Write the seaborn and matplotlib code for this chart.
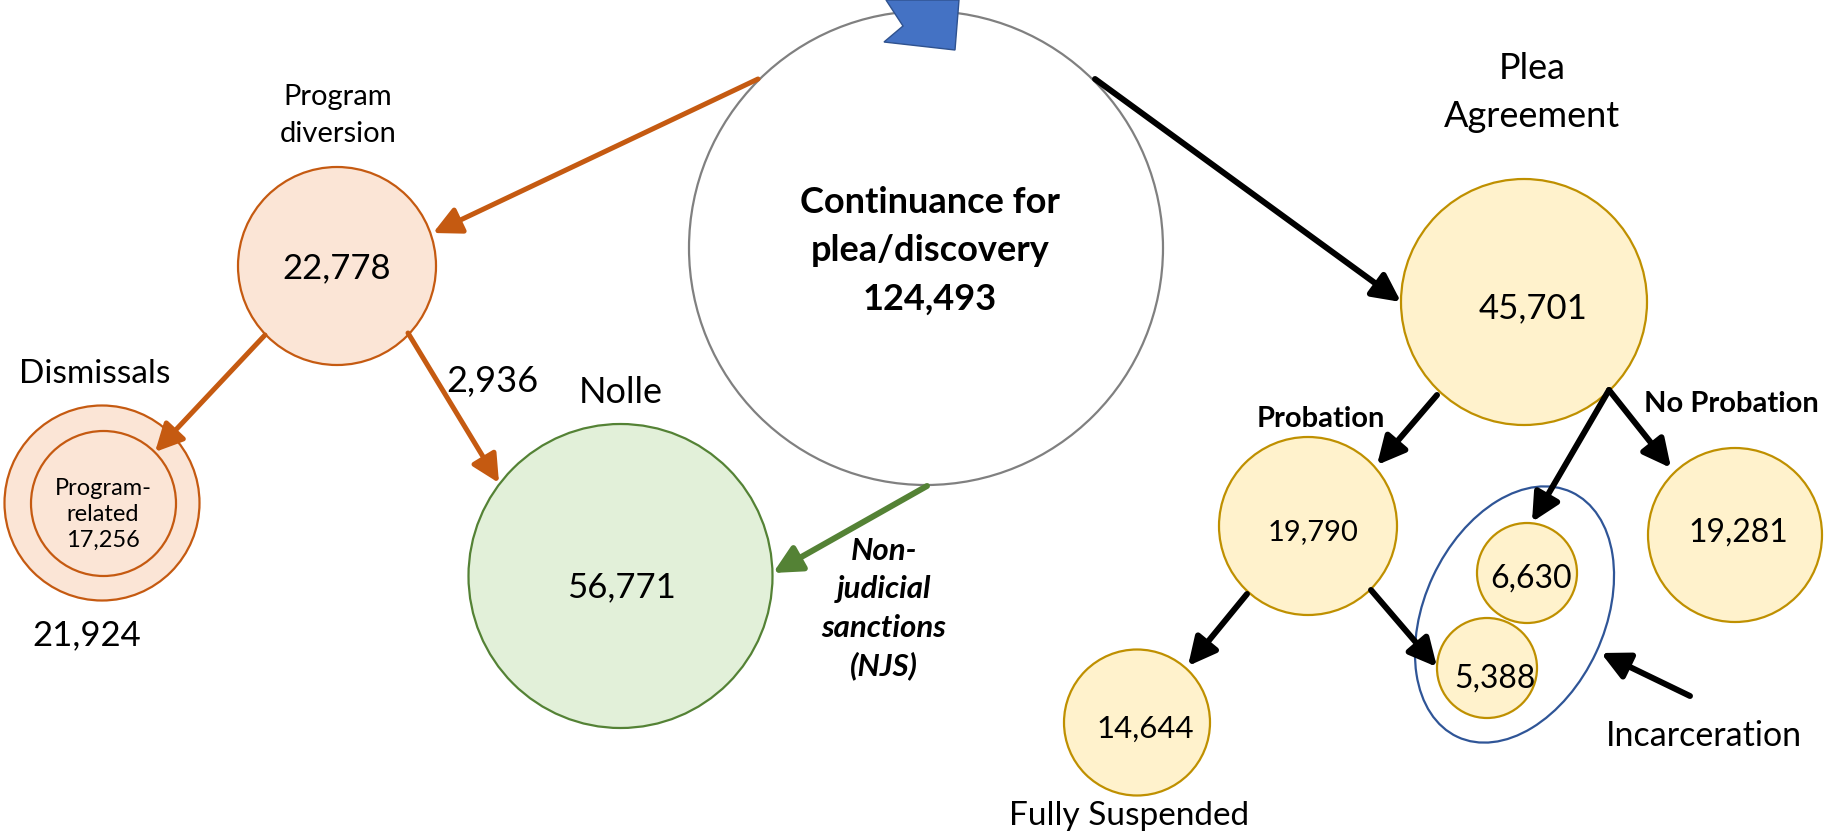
import numpy as np
import pandas as pd
import seaborn as sns
import matplotlib.pyplot as plt
from matplotlib.patches import Ellipse, Polygon

# node values (case counts)
node_names = ["Continuance", "Program diversion", "Dismissals", "Program-related",
              "Nolle", "Plea Agreement", "Probation", "No Probation",
              "Fully Suspended", "Incarceration (no probation)", "Incarceration (probation)"]
node_counts = [124493, 22778, 21924, 17256, 56771, 45701, 19790, 19281, 14644, 6630, 5388]
node_groups = ["start", "diversion", "diversion", "diversion", "nolle",
               "plea", "plea", "plea", "plea", "plea", "plea"]
flow_counts = {"diversion_to_nolle": 2936}

# layout of the diagram in pixel units (x right, y down)
node_x = [926, 337, 102, 103.5, 620.5, 1524, 1308, 1735, 1137, 1527, 1487]
node_y = [248, 266, 503, 503.5, 576, 302, 526, 535, 722.5, 573, 668]
node_r = [237, 99, 97.5, 72.5, 152, 123, 89, 87, 73, 50, 50]

fill_colors = {"start": "#FFFFFF", "diversion": "#FBE5D6", "nolle": "#E2F0D9", "plea": "#FFF2CC"}
edge_colors = {"start": "#808080", "diversion": "#C55A11", "nolle": "#548235", "plea": "#BF9000"}

DPI = 100
W, H = 1825, 836

sns.set_theme(style="white")
plt.rcParams["font.family"] = ["Lato", "DejaVu Sans"]

fig = plt.figure(figsize=(W / DPI, H / DPI), dpi=DPI)
ax = fig.add_axes([0, 0, 1, 1])

nodes = pd.DataFrame({"x": node_x, "y": node_y, "group": node_groups, "count": node_counts})
sizes = (2 * np.array(node_r) * 72 / DPI) ** 2
sns.scatterplot(data=nodes, x="x", y="y", hue="group", palette=fill_colors, s=sizes,
                edgecolor=[edge_colors[g] for g in node_groups], linewidth=1.6,
                legend=False, ax=ax, zorder=2)

ax.set_xlim(0, W)
ax.set_ylim(H, 0)
ax.axis("off")

# blue entry chevron at the top
ax.add_patch(Polygon([(886, 0), (903, 26), (884, 42), (955, 50), (959, 0)], closed=True,
                     facecolor="#4472C4", edgecolor="#2F528F", lw=1, zorder=3))

# ellipse grouping the incarceration circles
ax.add_patch(Ellipse((1514.5, 614.5), 180, 270, angle=25, fill=False,
                     edgecolor="#2F5597", lw=1.6, zorder=3))

# arrows: (start, tip, colour, linewidth)
arrows = [
    ((758, 79), (433, 233), "#C55A11", 3.6),
    ((265, 335), (155, 452), "#C55A11", 3.6),
    ((408, 333), (499, 483), "#C55A11", 3.6),
    ((927, 486), (773, 573), "#548235", 4.3),
    ((1095, 79), (1401, 302), "black", 4.3),
    ((1437, 395), (1377, 465), "black", 4.3),
    ((1609, 390), (1532, 522), "black", 4.3),
    ((1609, 390), (1671, 468), "black", 4.3),
    ((1247, 594), (1188, 666), "black", 4.3),
    ((1371, 590), (1437, 667), "black", 4.3),
    ((1690, 696), (1601, 653), "black", 4.3),
]
for start, tip, col, lw in arrows:
    ax.annotate("", xy=tip, xytext=start,
                arrowprops=dict(arrowstyle="-|>", color=col, lw=lw, mutation_scale=42,
                                shrinkA=0, shrinkB=0),
                zorder=4)

fmt = lambda v: f"{v:,}"


def txt(x, y, s, size, weight="normal", style="normal"):
    ax.text(x, y, s, ha="center", va="baseline", fontsize=size, fontweight=weight,
            fontstyle=style, color="black", zorder=5)


# central node
txt(930, 213, "Continuance for", 26, "bold")
txt(930, 261, "plea/discovery", 26, "bold")
txt(930, 310, fmt(node_counts[0]), 26, "bold")

# diversion branch
txt(338, 105, "Program", 21)
txt(338, 142, "diversion", 21)
txt(337, 278, fmt(node_counts[1]), 25)
txt(95, 383, "Dismissals", 24)
txt(103, 495, "Program-", 17)
txt(103, 521, "related", 17)
txt(103, 547, fmt(node_counts[3]), 17)
txt(87, 645, fmt(node_counts[2]), 25)
txt(492, 392, fmt(flow_counts["diversion_to_nolle"]), 26)

# nolle branch
txt(621, 403, "Nolle", 26)
txt(621, 597, fmt(node_counts[4]), 25)
for yy, s in zip([560, 598, 637, 675], ["Non-", "judicial", "sanctions", "(NJS)"]):
    txt(884, yy, s, 22.5, "bold", "italic")

# plea branch
txt(1532, 79, "Plea", 26)
txt(1532, 127, "Agreement", 26)
txt(1533, 318, fmt(node_counts[5]), 25)
txt(1321, 427, "Probation", 21, "bold")
txt(1731, 412, "No Probation", 21, "bold")
txt(1313, 540, fmt(node_counts[6]), 21)
txt(1738, 542, fmt(node_counts[7]), 23)
txt(1145, 738, fmt(node_counts[8]), 22.5)
txt(1129, 825, "Fully Suspended", 24)
txt(1531, 588, fmt(node_counts[9]), 23)
txt(1495, 688, fmt(node_counts[10]), 23)
txt(1704, 746, "Incarceration", 24.5)

fig.savefig("out.png", dpi=DPI, facecolor="white")
